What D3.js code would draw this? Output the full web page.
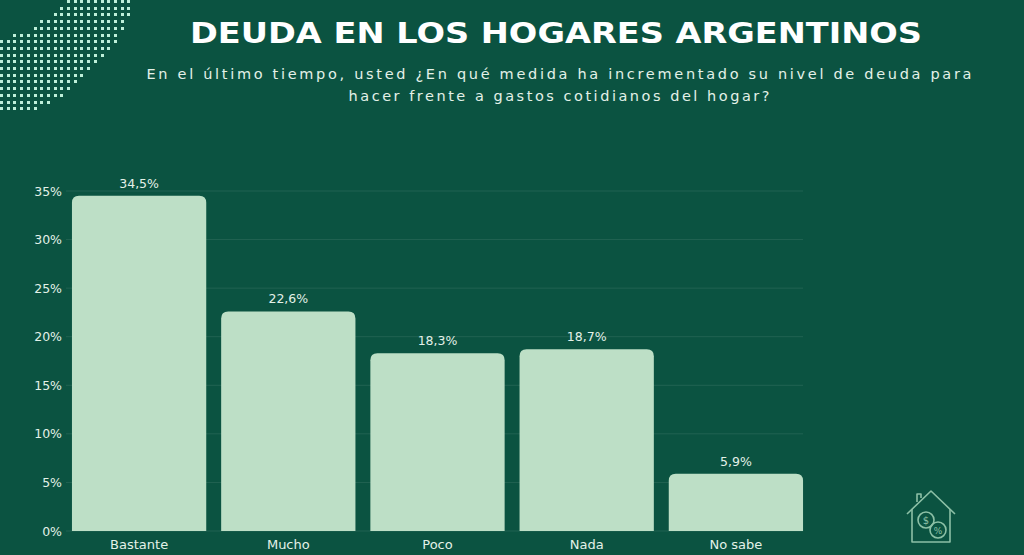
<!DOCTYPE html>
<html>
<head>
<meta charset="utf-8">
<script src="https://cdn.jsdelivr.net/npm/d3@7"></script>
<style>
    html, body { margin: 0; padding: 0; background: #0b5341; }
    svg { display: block; }
</style>
</head>
<body>
<div id="chart"></div>
<script>
'use strict';

var categories = ['Bastante', 'Mucho', 'Poco', 'Nada', 'No sabe'];
var values = [34.5, 22.6, 18.3, 18.7, 5.9];
var valueLabels = ['34,5%', '22,6%', '18,3%', '18,7%', '5,9%'];
var yTicks = [0, 5, 10, 15, 20, 25, 30, 35];

var width = 1024;
var height = 555;

var bg = '#0b5341';
var barColor = '#bddfc6';
var textColor = '#e3f1e8';
var gridColor = 'rgba(255,255,255,0.09)';

var svg = d3.select('#chart').append('svg')
    .attr('width', width)
    .attr('height', height);

svg.append('rect')
    .attr('width', width)
    .attr('height', height)
    .attr('fill', bg);

// dotted arc decoration, top left
var dots = svg.append('g')
    .attr('fill', '#bff0da')
    .attr('shape-rendering', 'crispEdges');
function inBand(px, py) {
    var outer = Math.sqrt((px + 30) * (px + 30) + (py + 50) * (py + 50));
    var inner = Math.sqrt((px + 30) * (px + 30) + (py + 90) * (py + 90));
    return outer < 172 && inner > 132;
}
for (var gx = 1.5; gx < 150; gx += 6.7) {
    for (var gy = 1.5; gy < 110; gy += 6.7) {
        if (inBand(gx, gy)) {
            dots.append('rect')
                .attr('x', Math.round(gx - 1.5))
                .attr('y', Math.round(gy - 1.5))
                .attr('width', 3)
                .attr('height', 3);
        }
    }
}

// titles
svg.append('text')
    .attr('x', 556)
    .attr('y', 43)
    .attr('text-anchor', 'middle')
    .attr('fill', '#ffffff')
    .style('font-family', 'DejaVu Sans')
    .style('font-weight', 'bold')
    .style('font-size', '29px')
    .attr('textLength', 732)
    .attr('lengthAdjust', 'spacingAndGlyphs')
    .text('DEUDA EN LOS HOGARES ARGENTINOS');

var subtitle = [
    { text: 'En el último tiempo, usted ¿En qué medida ha incrementado su nivel de deuda para', y: 79, len: 825 },
    { text: 'hacer frente a gastos cotidianos del hogar?', y: 101, len: 421 }
];
svg.selectAll('text.subtitle')
    .data(subtitle)
    .enter().append('text')
    .attr('class', 'subtitle')
    .attr('x', 559)
    .attr('y', function(d) { return d.y; })
    .attr('text-anchor', 'middle')
    .attr('fill', textColor)
    .style('font-family', 'DejaVu Sans')
    .style('font-size', '14.5px')
    .attr('textLength', function(d) { return d.len; })
    .attr('lengthAdjust', 'spacing')
    .text(function(d) { return d.text; });

// scales
var x = d3.scaleBand()
    .domain(categories)
    .range([64.5, 810.5])
    .paddingInner(0.1)
    .paddingOuter(0.05);

var y = d3.scaleLinear()
    .domain([0, 35])
    .range([531, 191]);

// grid
svg.append('g')
    .selectAll('line')
    .data(yTicks)
    .enter().append('line')
    .attr('x1', 66)
    .attr('x2', 803)
    .attr('y1', function(d) { return y(d); })
    .attr('y2', function(d) { return y(d); })
    .style('stroke', gridColor)
    .style('stroke-width', 1);

// y axis
var yAxis = svg.append('g')
    .attr('transform', 'translate(62,0)')
    .call(d3.axisLeft(y).tickValues(yTicks).tickSize(0).tickPadding(0)
        .tickFormat(function(d) { return d + '%'; }));
yAxis.select('.domain').remove();
yAxis.selectAll('text')
    .attr('fill', textColor)
    .style('font-family', 'DejaVu Sans')
    .style('font-size', '12.5px');

// bars with rounded tops
var r = 7;
function barPath(d, i) {
    var x0 = x(categories[i]);
    var x1 = x0 + x.bandwidth();
    var y0 = y(0);
    var y1 = y(d);
    return 'M' + x0 + ',' + y0 +
        'V' + (y1 + r) +
        'Q' + x0 + ',' + y1 + ' ' + (x0 + r) + ',' + y1 +
        'H' + (x1 - r) +
        'Q' + x1 + ',' + y1 + ' ' + x1 + ',' + (y1 + r) +
        'V' + y0 + 'Z';
}

svg.append('g')
    .selectAll('path')
    .data(values)
    .enter().append('path')
    .attr('d', barPath)
    .attr('fill', barColor);

// value labels
svg.append('g')
    .selectAll('text')
    .data(values)
    .enter().append('text')
    .attr('x', function(d, i) { return x(categories[i]) + x.bandwidth() / 2; })
    .attr('y', function(d) { return y(d) - 8; })
    .attr('text-anchor', 'middle')
    .attr('fill', textColor)
    .style('font-family', 'DejaVu Sans')
    .style('font-size', '12.5px')
    .text(function(d, i) { return valueLabels[i]; });

// x axis labels
var xAxis = svg.append('g')
    .attr('transform', 'translate(0,' + y(0) + ')')
    .call(d3.axisBottom(x).tickSize(0).tickPadding(9));
xAxis.select('.domain').remove();
xAxis.selectAll('text')
    .attr('fill', textColor)
    .style('font-family', 'DejaVu Sans')
    .style('font-size', '13px');

// house icon, bottom right
var icon = svg.append('g')
    .attr('transform', 'translate(931,518)')
    .style('fill', 'none')
    .style('stroke', '#8cc0a6')
    .style('stroke-width', 1.6)
    .style('stroke-linejoin', 'round');
icon.append('path').attr('d', 'M-24,-4 L0,-27 L24,-4');
icon.append('path').attr('d', 'M-19,-9 V24 H19 V-9');
icon.append('path').attr('d', 'M-14,-16 V-24 H-10 V-20');
icon.append('circle').attr('cx', -5).attr('cy', 2).attr('r', 8);
icon.append('circle').attr('cx', 7).attr('cy', 12).attr('r', 8);
icon.append('text').attr('x', -5).attr('y', 6).attr('text-anchor', 'middle')
    .style('fill', '#8cc0a6').style('stroke', 'none')
    .style('font-family', 'DejaVu Sans').style('font-size', '10px').text('$');
icon.append('text').attr('x', 7).attr('y', 16).attr('text-anchor', 'middle')
    .style('fill', '#8cc0a6').style('stroke', 'none')
    .style('font-family', 'DejaVu Sans').style('font-size', '9px').text('%');
</script>
</body>
</html>
